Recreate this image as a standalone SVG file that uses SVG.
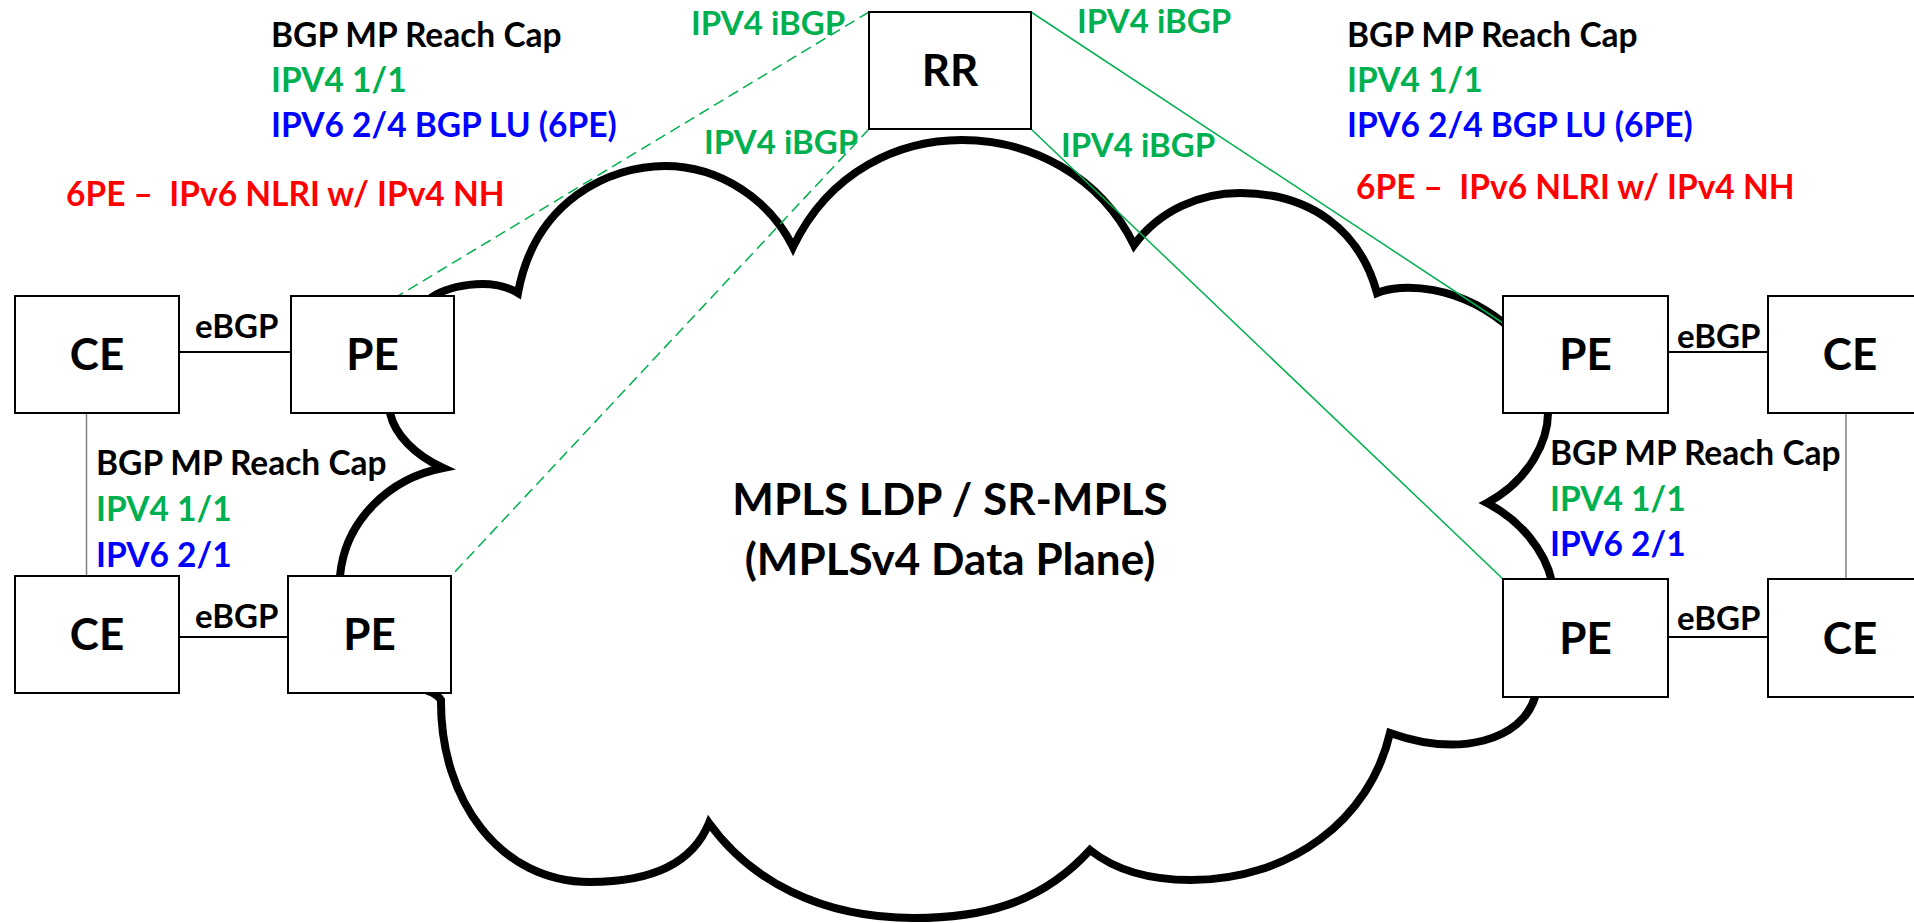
<svg xmlns="http://www.w3.org/2000/svg" width="1914" height="923" viewBox="0 0 1914 923">
<style>
text{font-family:Lato,"Liberation Sans",sans-serif;font-weight:bold;white-space:pre}
.box{fill:#fff;stroke:#000;stroke-width:2}
.lbl{font-size:44px;text-anchor:middle}
.sm{font-size:33.5px}
.lk{font-size:33px}
.blk{fill:#000}.grn{fill:#00B050}.blu{fill:#0000FF}.red{fill:#FF0000}
.ib{stroke:#00B050;stroke-width:1.5;fill:none}
.dash{stroke-dasharray:11 6}
.eb{stroke:#000;stroke-width:2}
.gr{stroke:#808080;stroke-width:1.5}
</style>
<rect width="1914" height="923" fill="#fff"/>
<g id="cloud">
<path fill="#fff" stroke="#000" stroke-width="8" stroke-linejoin="miter" d="M 400,380 L 428,300 C 445,286 490,276 518,293 C 535,200 610,166 665,166 C 720,166 770,200 793,247 C 830,170 900,140 962,140 C 1030,140 1100,175 1134,245 C 1160,210 1200,193 1240,193 C 1310,193 1360,230 1377,293 C 1400,283 1460,283 1512,330 L 1548,413 C 1548,440 1530,480 1487,503 C 1520,520 1545,550 1552,582 L 1535,697 C 1522,740 1460,758 1390,733 C 1370,820 1290,880 1191,880 C 1150,880 1115,870 1090,850 C 1040,905 980,918 914,918 C 820,918 750,880 709,823 C 690,870 640,882 590,882 C 500,882 440,800 441,700 Q 435,690 405,685 L 340,600 L 340,576 C 345,520 390,478 443,468 C 415,455 395,435 390,413 Z"/>
<text x="950" y="515" class="lbl blk">MPLS LDP / SR-MPLS</text>
<text x="950" y="575" class="lbl blk">(MPLSv4 Data Plane)</text>
</g>
<g id="connectors">
<line class="ib dash" x1="869" y1="12" x2="398" y2="296"/>
<line class="ib dash" x1="869" y1="129" x2="451" y2="576"/>
<line class="ib" x1="1031" y1="12" x2="1503" y2="323"/>
<line class="ib" x1="1031" y1="129" x2="1503" y2="579"/>
<line class="eb" x1="179" y1="352" x2="291" y2="352"/>
<line class="eb" x1="179" y1="637" x2="288" y2="637"/>
<line class="eb" x1="1668" y1="352" x2="1768" y2="352"/>
<line class="eb" x1="1668" y1="637" x2="1768" y2="637"/>
<line class="gr" x1="86.5" y1="413" x2="86.5" y2="576"/>
<line class="gr" x1="1846" y1="413" x2="1846" y2="579"/>
<text x="691" y="35" class="lk grn">IPV4 iBGP</text>
<text x="1077" y="33" class="lk grn">IPV4 iBGP</text>
<text x="704" y="154" class="lk grn">IPV4 iBGP</text>
<text x="1061" y="157" class="lk grn">IPV4 iBGP</text>
<text x="195" y="338" class="lk blk">eBGP</text>
<text x="195" y="628" class="lk blk">eBGP</text>
<text x="1677" y="348" class="lk blk">eBGP</text>
<text x="1677" y="630" class="lk blk">eBGP</text>
</g>
<g id="rr"><rect class="box" x="869" y="12" width="162" height="117"/><text x="950" y="86" class="lbl blk">RR</text></g>
<g id="ce-tl"><rect class="box" x="15" y="296" width="164" height="117"/><text x="97" y="370" class="lbl blk">CE</text></g>
<g id="pe-tl"><rect class="box" x="291" y="296" width="163" height="117"/><text x="372.5" y="370" class="lbl blk">PE</text></g>
<g id="ce-bl"><rect class="box" x="15" y="576" width="164" height="117"/><text x="97" y="650" class="lbl blk">CE</text></g>
<g id="pe-bl"><rect class="box" x="288" y="576" width="163" height="117"/><text x="369.5" y="650" class="lbl blk">PE</text></g>
<g id="pe-tr"><rect class="box" x="1503" y="296" width="165" height="117"/><text x="1585.5" y="370" class="lbl blk">PE</text></g>
<g id="ce-tr"><rect class="box" x="1768" y="296" width="164" height="117"/><text x="1850" y="370" class="lbl blk">CE</text></g>
<g id="pe-br"><rect class="box" x="1503" y="579" width="165" height="118"/><text x="1585.5" y="654" class="lbl blk">PE</text></g>
<g id="ce-br"><rect class="box" x="1768" y="579" width="164" height="118"/><text x="1850" y="654" class="lbl blk">CE</text></g>
<g id="notes-tl">
<text x="271" y="47" class="sm blk">BGP MP Reach Cap</text>
<text x="271" y="92" class="sm grn">IPV4 1/1</text>
<text x="271" y="137" class="sm blu">IPV6 2/4 BGP LU (6PE)</text>
<text x="66" y="206" class="sm red">6PE –  IPv6 NLRI w/ IPv4 NH</text>
</g>
<g id="notes-tr">
<text x="1347" y="47" class="sm blk">BGP MP Reach Cap</text>
<text x="1347" y="92" class="sm grn">IPV4 1/1</text>
<text x="1347" y="137" class="sm blu">IPV6 2/4 BGP LU (6PE)</text>
<text x="1356" y="199" class="sm red">6PE –  IPv6 NLRI w/ IPv4 NH</text>
</g>
<g id="notes-ml">
<text x="96" y="475" class="sm blk">BGP MP Reach Cap</text>
<text x="96" y="521" class="sm grn">IPV4 1/1</text>
<text x="96" y="567" class="sm blu">IPV6 2/1</text>
</g>
<g id="notes-mr">
<text x="1550" y="465" class="sm blk">BGP MP Reach Cap</text>
<text x="1550" y="511" class="sm grn">IPV4 1/1</text>
<text x="1550" y="556" class="sm blu">IPV6 2/1</text>
</g>
</svg>
